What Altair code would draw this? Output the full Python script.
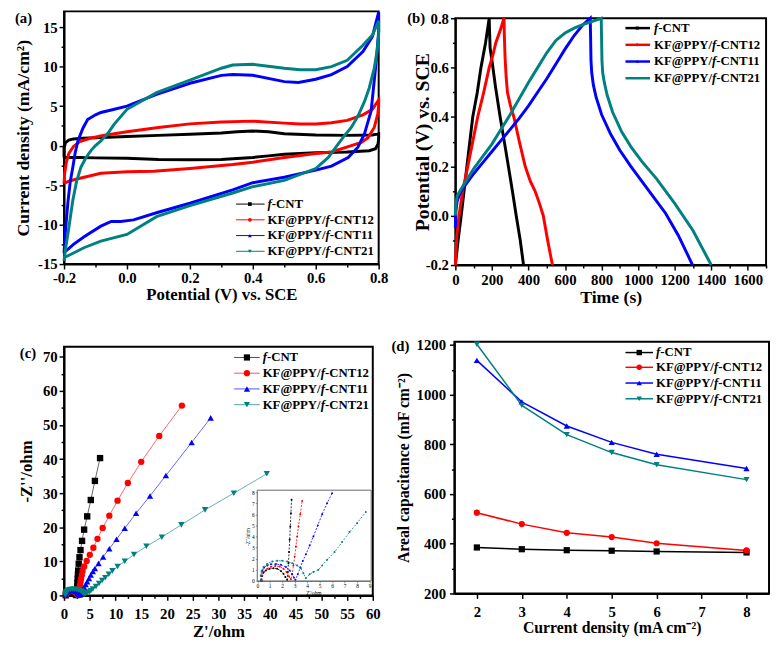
import altair as alt
import pandas as pd

FONT = "Liberation Serif"
NAMES = ["f-CNT", "KF@PPY/f-CNT12", "KF@PPY/f-CNT11", "KF@PPY/f-CNT21"]
COLORS = ["#000000", "#ff0000", "#0000ff", "#008080"]
SHAPES = ["square", "circle", "triangle-up", "triangle-down"]

# ---------------- (a) CV loops: potential (V) / current density (mA/cm2)
CV_V_CNT = [-0.2, -0.2, -0.195, -0.185, -0.17, -0.14, -0.1, 0.0, 0.1, 0.2, 0.3, 0.35, 0.4, 0.45, 0.5, 0.6, 0.7, 0.78, 0.795, 0.8,
            0.8, 0.798, 0.79, 0.77, 0.7, 0.6, 0.5, 0.45, 0.4, 0.3, 0.2, 0.1, 0.0, -0.1, -0.15, -0.19, -0.2]
CV_I_CNT = [-1.5, -0.3, 0.4, 0.7, 0.85, 0.95, 1.0, 1.15, 1.3, 1.45, 1.6, 1.75, 1.85, 1.75, 1.5, 1.35, 1.3, 1.35, 1.45, 1.5,
            0.9, 0.2, -0.4, -0.65, -0.8, -0.9, -1.1, -1.3, -1.5, -1.75, -1.8, -1.75, -1.6, -1.55, -1.5, -1.5, -1.5]
CV_V_12 = [-0.2, -0.198, -0.193, -0.185, -0.17, -0.15, -0.12, -0.08, 0.0, 0.1, 0.2, 0.3, 0.4, 0.5, 0.55, 0.6, 0.65, 0.7, 0.75, 0.78, 0.8,
           0.8, 0.797, 0.786, 0.766, 0.745, 0.713, 0.65, 0.6, 0.5, 0.4, 0.336, 0.2, 0.085, 0.0, -0.083, -0.156, -0.185, -0.2]
CV_I_12 = [-4.8, -3.5, -2.2, -1.0, -0.1, 0.5, 0.9, 1.25, 1.75, 2.3, 2.75, 3.0, 3.1, 2.85, 2.75, 2.75, 2.9, 3.2, 3.9, 4.6, 5.8,
           5.0, 4.0, 2.3, 1.0, 0.4, 0.0, -0.8, -1.0, -1.5, -2.1, -2.4, -2.9, -3.25, -3.3, -3.5, -4.2, -4.5, -4.8]
CV_V_11 = [-0.2, -0.195, -0.187, -0.18, -0.172, -0.165, -0.156, -0.14, -0.125, -0.1, -0.083, -0.04, 0.0, 0.094, 0.2, 0.3, 0.336, 0.4, 0.5, 0.545, 0.6, 0.65, 0.7, 0.75, 0.78, 0.8,
           0.8, 0.795, 0.79, 0.776, 0.755, 0.734, 0.703, 0.65, 0.6, 0.5, 0.4, 0.336, 0.2, 0.094, 0.021, -0.02, -0.05, -0.083, -0.135, -0.17, -0.187, -0.2]
CV_I_11 = [-13.6, -10.5, -6.9, -4.5, -2.7, -1.0, 0.6, 2.2, 3.3, 3.9, 4.2, 4.6, 5.0, 6.5, 7.9, 8.9, 9.0, 8.9, 8.1, 8.0, 8.4, 9.0, 10.0, 11.9, 13.8, 16.9,
           14.5, 12.0, 9.8, 4.4, 1.5, -0.2, -1.5, -2.6, -3.1, -4.0, -4.7, -5.6, -7.3, -8.5, -9.4, -9.6, -9.6, -10.2, -11.5, -12.5, -13.1, -13.5]
CV_V_21 = [-0.2, -0.195, -0.187, -0.172, -0.16, -0.146, -0.13, -0.114, -0.1, -0.083, -0.06, -0.041, 0.0, 0.094, 0.2, 0.3, 0.336, 0.4, 0.5, 0.55, 0.6, 0.65, 0.7, 0.75, 0.78, 0.8,
           0.8, 0.795, 0.786, 0.77, 0.755, 0.735, 0.713, 0.69, 0.671, 0.64, 0.6, 0.5, 0.4, 0.336, 0.2, 0.094, 0.0, -0.083, -0.135, -0.17, -0.2]
CV_I_21 = [-14.6, -13.0, -11.0, -6.9, -4.5, -2.7, -1.5, -0.6, 0.0, 0.6, 1.6, 2.7, 4.6, 6.7, 8.3, 9.8, 10.2, 10.3, 9.8, 9.6, 9.6, 10.0, 10.8, 12.7, 14.0, 15.8,
           14.0, 12.0, 9.8, 7.3, 5.6, 3.8, 2.3, 1.2, 0.2, -1.5, -2.9, -4.4, -5.2, -6.0, -7.6, -9.0, -11.25, -12.1, -12.9, -13.6, -14.2]

# ---------------- (b) GCD: time (s) / potential (V)
GCD_T_CNT = [0, 15, 32, 60, 95, 120, 140, 165, 185, 187, 190, 200, 220, 245, 270, 290, 312, 333, 355, 373]
GCD_V_CNT = [-0.2, -0.1, 0.0, 0.18, 0.4, 0.5, 0.6, 0.7, 0.8, 0.75, 0.68, 0.63, 0.52, 0.4, 0.29, 0.2, 0.1, 0.0, -0.1, -0.2]
GCD_T_12 = [0, 8, 20, 40, 68, 95, 122, 155, 185, 205, 221, 245, 266, 268, 272, 278, 285, 300, 320, 350, 382, 410, 436, 460, 481, 505, 531]
GCD_V_12 = [-0.2, -0.08, 0.0, 0.1, 0.2, 0.3, 0.4, 0.5, 0.6, 0.65, 0.7, 0.75, 0.8, 0.73, 0.64, 0.56, 0.5, 0.45, 0.4, 0.3, 0.2, 0.14, 0.1, 0.05, 0.0, -0.1, -0.2]
GCD_T_11 = [0, 3, 10, 25, 50, 100, 150, 200, 250, 300, 350, 400, 450, 500, 550, 600, 650, 700, 738, 740, 742, 746, 755, 770, 800, 850, 900, 960, 1050, 1150, 1220, 1298]
GCD_V_11 = [-0.05, 0.02, 0.06, 0.09, 0.12, 0.17, 0.215, 0.26, 0.305, 0.35, 0.395, 0.445, 0.5, 0.555, 0.615, 0.675, 0.73, 0.775, 0.8, 0.72, 0.63, 0.58, 0.53, 0.48, 0.41, 0.33, 0.265, 0.2, 0.11, 0.01, -0.08, -0.2]
GCD_T_21 = [0, 3, 10, 25, 50, 100, 150, 200, 250, 300, 350, 400, 450, 500, 550, 600, 650, 700, 750, 798, 800, 802, 806, 815, 830, 860, 910, 960, 1020, 1100, 1200, 1300, 1400]
GCD_V_21 = [0.0, 0.05, 0.08, 0.1, 0.13, 0.19, 0.24, 0.29, 0.35, 0.41, 0.475, 0.54, 0.6, 0.66, 0.71, 0.74, 0.76, 0.775, 0.787, 0.8, 0.72, 0.63, 0.58, 0.54, 0.49, 0.42, 0.34, 0.28, 0.22, 0.15, 0.05, -0.06, -0.2]

# ---------------- (c) Nyquist: Z' / -Z'' (ohm)
EIS_RE_CNT = [0.35, 0.38, 0.5, 0.7, 1.0, 1.3, 1.6, 1.9, 2.1, 2.25, 2.4, 2.45, 2.5, 2.55, 2.6, 2.65, 2.7, 2.75, 2.85, 3.0, 3.2, 3.5, 3.9, 4.5, 5.2, 6.0, 7.0]
EIS_IM_CNT = [0.05, 0.45, 0.75, 0.95, 1.1, 1.15, 1.1, 0.9, 0.65, 0.35, 0.1, 0.8, 1.6, 2.6, 3.7, 4.9, 6.1, 7.3, 9.3, 11.2, 13.3, 16.0, 19.3, 23.2, 28.0, 33.6, 40.3]
EIS_RE_12 = [0.35, 0.4, 0.55, 0.8, 1.1, 1.45, 1.8, 2.1, 2.35, 2.55, 2.7, 2.8, 2.9, 3.0, 3.1, 3.2, 3.3, 3.45, 3.6, 3.9, 4.4, 5.0, 5.7, 6.5, 7.5, 8.8, 10.4, 12.4, 15.0, 18.5, 22.9]
EIS_IM_12 = [0.05, 0.5, 0.85, 1.1, 1.28, 1.35, 1.3, 1.1, 0.8, 0.4, 0.15, 0.6, 1.4, 2.2, 3.1, 4.0, 4.9, 6.0, 7.2, 8.5, 10.1, 11.9, 14.0, 16.6, 19.8, 23.4, 27.8, 33.0, 39.2, 46.8, 55.7]
EIS_RE_11 = [0.3, 0.32, 0.4, 0.55, 0.8, 1.1, 1.5, 1.9, 2.3, 2.6, 2.8, 2.95, 3.06, 3.25, 3.45, 3.65, 3.9, 4.2, 4.5, 4.85, 5.2, 5.6, 6.0, 6.7, 7.6, 8.8, 10.2, 11.8, 14.0, 16.7, 19.8, 24.8, 28.5]
EIS_IM_11 = [0.05, 0.5, 0.9, 1.2, 1.4, 1.5, 1.52, 1.45, 1.25, 0.95, 0.6, 0.3, 0.1, 0.6, 1.2, 1.8, 2.4, 3.2, 4.0, 5.0, 6.0, 7.0, 7.9, 9.4, 11.3, 13.7, 16.5, 19.7, 24.1, 29.2, 35.2, 44.9, 52.1]
EIS_RE_21 = [0.3, 0.28, 0.35, 0.5, 0.8, 1.2, 1.6, 2.0, 2.4, 2.8, 3.2, 3.5, 3.7, 3.9, 4.2, 4.5, 4.9, 5.2, 5.6, 6.2, 6.8, 7.4, 8.0, 8.7, 9.4, 10.4, 11.8, 13.6, 16.0, 19.0, 22.8, 27.4, 33.0, 39.4]
EIS_IM_21 = [0.05, 0.5, 0.9, 1.25, 1.55, 1.75, 1.82, 1.82, 1.75, 1.6, 1.4, 1.15, 0.7, 0.25, 0.6, 0.8, 1.0, 1.4, 1.9, 2.6, 3.5, 4.4, 5.2, 6.2, 7.2, 8.5, 10.0, 12.0, 14.4, 17.1, 20.7, 25.1, 30.0, 35.7]

# ---------------- (d) areal capacitance vs current density
CD = [2, 3, 4, 5, 6, 8]
CAP_CNT = [385, 378, 374, 372, 369, 365]
CAP_12 = [525, 479, 444, 427, 402, 373]
CAP_11 = [1138, 971, 874, 808, 760, 703]
CAP_21 = [1203, 957, 839, 767, 718, 658]

# tick values (major + minor)
TICKS_A_X = [-0.2, -0.1, 0.0, 0.1, 0.2, 0.3, 0.4, 0.5, 0.6, 0.7, 0.8]
TICKS_A_Y = [-15, -12.5, -10, -7.5, -5, -2.5, 0, 2.5, 5, 7.5, 10, 12.5, 15]
TICKS_B_X = [0, 100, 200, 300, 400, 500, 600, 700, 800, 900, 1000, 1100, 1200, 1300, 1400, 1500, 1600, 1700]
TICKS_B_Y = [-0.2, -0.1, 0.0, 0.1, 0.2, 0.3, 0.4, 0.5, 0.6, 0.7, 0.8]
TICKS_C_X = [0, 2.5, 5, 7.5, 10, 12.5, 15, 17.5, 20, 22.5, 25, 27.5, 30, 32.5, 35, 37.5, 40, 42.5, 45, 47.5, 50, 52.5, 55, 57.5, 60]
TICKS_C_Y = [0, 5, 10, 15, 20, 25, 30, 35, 40, 45, 50, 55, 60, 65, 70]
TICKS_D_X = [2, 2.5, 3, 3.5, 4, 4.5, 5, 5.5, 6, 6.5, 7, 7.5, 8]
TICKS_D_Y = [200, 300, 400, 500, 600, 700, 800, 900, 1000, 1100, 1200]
TICKS_IN_X = [0, 1, 2, 3, 4, 5, 6, 7, 8, 9]
TICKS_IN_Y = [0, 1, 2, 3, 4, 5, 6, 7, 8]


def long_df(xs, ys, xn, yn):
    rows = []
    for name, xl, yl in zip(NAMES, xs, ys):
        for i, (xv, yv) in enumerate(zip(xl, yl)):
            rows.append({"series": name, xn: xv, yn: yv, "i": i})
    return pd.DataFrame(rows)


df_a = long_df([CV_V_CNT, CV_V_12, CV_V_11, CV_V_21], [CV_I_CNT, CV_I_12, CV_I_11, CV_I_21], "V", "I")
df_b = long_df([GCD_T_CNT, GCD_T_12, GCD_T_11, GCD_T_21], [GCD_V_CNT, GCD_V_12, GCD_V_11, GCD_V_21], "t", "E")
df_c = long_df([EIS_RE_CNT, EIS_RE_12, EIS_RE_11, EIS_RE_21], [EIS_IM_CNT, EIS_IM_12, EIS_IM_11, EIS_IM_21], "zr", "zi")
df_d = long_df([CD] * 4, [CAP_CNT, CAP_12, CAP_11, CAP_21], "j", "C")

COLOR = alt.Color("series:N", scale=alt.Scale(domain=NAMES, range=COLORS), legend=None)
SHAPE = alt.Shape("series:N", scale=alt.Scale(domain=NAMES, range=SHAPES), legend=None)


def sc(lo, hi, rng=None):
    if rng is None:
        return alt.Scale(domain=[lo, hi], nice=False, zero=False)
    return alt.Scale(domain=[lo, hi], range=rng, nice=False, zero=False)


def ax(orient, values, step, fmt, title, tsize, tx, ty, lsize=15, lpad=3, major=5, minor=3):
    cond = f"abs(datum.value/{step} - round(datum.value/{step})) > 0.001"
    return alt.Axis(
        orient=orient, values=values, format=fmt, title=title,
        labelExpr=f"({cond}) ? '' : replace(datum.label, '\u2212', '-')",
        tickSize={"condition": {"test": cond, "value": minor}, "value": major},
        labelFontSize=lsize, labelPadding=lpad, titleFontSize=tsize,
        titleX=tx, titleY=ty, titleBaseline="alphabetic", titleAlign="center",
        titleAngle=270 if orient == "left" else 0,
    )


def one():
    return alt.Data(values=[{"k": 0}])


W_EM = {"KF@PPY/": 4.541, "f": 0.333}


def segs(name):
    if name.startswith("KF@PPY/"):
        return [("KF@PPY/", False), ("f", True), (name[8:], False)]
    return [("f", True), (name[1:], False)]


def legend(xl0, xl1, xm, xt, ys, fs=13, lw=1.0, ms=16, lop=1.0):
    out = []
    for name, col, shp, y in zip(NAMES, COLORS, SHAPES, ys):
        out.append(alt.Chart(one()).mark_rule(color=col, strokeWidth=lw, opacity=lop).encode(
            x=alt.value(xl0), x2=alt.value(xl1), y=alt.value(y)))
        out.append(alt.Chart(one()).mark_point(shape=shp, filled=True, size=ms, color=col, opacity=1).encode(
            x=alt.value(xm), y=alt.value(y)))
        x = xt
        for s, it in segs(name):
            out.append(alt.Chart(one()).mark_text(
                align="left", baseline="middle", font=FONT, fontSize=fs, fontWeight="bold",
                fontStyle="italic" if it else "normal", color="black").encode(
                x=alt.value(x), y=alt.value(y), text=alt.value(s)))
            x += W_EM.get(s, 0) * fs
    return out


def tag(txt, x, y):
    return alt.Chart(one()).mark_text(align="left", baseline="middle", font=FONT, fontSize=15,
                                      fontWeight="bold", color="black").encode(
        x=alt.value(x), y=alt.value(y), text=alt.value(txt))


def spacer(x, y):
    return alt.Chart(one()).mark_rule(color="white", strokeWidth=1).encode(
        x=alt.value(x), y=alt.value(y), y2=alt.value(y + 1))


def frame(x0, x1, y0, y1, color="black", width=2, fill=None):
    if fill is None:
        mk = alt.Chart(one()).mark_rect(fillOpacity=0, stroke=color, strokeWidth=width)
    else:
        mk = alt.Chart(one()).mark_rect(fill=fill, stroke=color, strokeWidth=width)
    return mk.encode(x=alt.value(x0), x2=alt.value(x1), y=alt.value(y0), y2=alt.value(y1))


NOVIEW = alt.ViewBackground(strokeOpacity=0, strokeWidth=0)

# ---------------- panel (a)
WA, HA = 320, 257
a_line = alt.Chart(df_a).mark_line(strokeWidth=3).encode(
    x=alt.X("V:Q", scale=sc(-0.2, 0.8),
            axis=ax("bottom", TICKS_A_X, 0.2, ".1f", "Potential (V) vs. SCE", 17, WA / 2, 36, lpad=2)),
    y=alt.Y("I:Q", scale=sc(-15, 17),
            axis=ax("left", TICKS_A_Y, 5, ".0f", "Current density (mA/cm\u00b2)", 18, -36, HA / 2, lpad=2)),
    color=COLOR, order=alt.Order("i:Q"))
panel_a = alt.layer(a_line, *legend(175, 204, 189, 207, [196, 212, 228, 244], lw=1, ms=14),
                    tag("(a)", -50, 7), spacer(-55, 100)).properties(width=WA, height=HA)

# ---------------- panel (b)  (plot area starts 7px below the row top)
WB, HB, TB = 316, 258, 7
b_line = alt.Chart(df_b).mark_line(strokeWidth=3).encode(
    x=alt.X("t:Q", scale=sc(0, 1700),
            axis=ax("bottom", TICKS_B_X, 200, "d", "Time (s)", 18, WB / 2, 38, lpad=3)),
    y=alt.Y("E:Q", scale=sc(-0.2, 0.8, [HB, TB]),
            axis=ax("left", TICKS_B_Y, 0.2, ".1f", "Potential (V) vs. SCE", 20, -27, (HB + TB) / 2, lpad=2)),
    color=COLOR, order=alt.Order("i:Q"))
panel_b = alt.layer(frame(0, WB, TB, HB), b_line,
                    *legend(173, 198, 185, 202, [TB + 10, TB + 27, TB + 44, TB + 61], lw=2.5, ms=10),
                    tag("(b)", -49, TB)).properties(width=WB, height=HB, view=NOVIEW)

# ---------------- panel (c)  (plot area starts 5px below the row top)
WC, HC, TC = 314, 258, 5
CX = sc(0, 60)
CY = sc(0, 73, [HC, TC])
c_ax_x = ax("bottom", TICKS_C_X, 5, "d", "Z'/ohm", 17, WC / 2, 42, lpad=6)
c_ax_y = ax("left", TICKS_C_Y, 10, "d", "-Z''/ohm", 17, -33, (HC + TC) / 2, lpad=2)
c_line = alt.Chart(df_c).mark_line(strokeWidth=1, opacity=0.6).encode(
    x=alt.X("zr:Q", scale=CX, axis=c_ax_x), y=alt.Y("zi:Q", scale=CY, axis=c_ax_y),
    color=COLOR, order=alt.Order("i:Q"))
c_pts = alt.Chart(df_c).mark_point(filled=True, size=42, opacity=1).encode(
    x=alt.X("zr:Q", scale=CX, axis=None), y=alt.Y("zi:Q", scale=CY, axis=None),
    color=COLOR, shape=SHAPE)

IN_X = alt.Scale(domain=[0, 9], range=[196.5, 310.7], nice=False, zero=False)
IN_Y = alt.Scale(domain=[0, 8], range=[HC - 14.7, HC - 14.7 - 90.4], nice=False, zero=False)
in_common = dict(titleFontSize=5.5, titleFontWeight="normal", titlePadding=1, labelFontSize=5.5,
                 labelFontWeight="normal", labelPadding=1, tickSize=2, tickWidth=0.6, domainWidth=0.8,
                 domainColor="#555", tickColor="#555", labelFlush=False, labelOverlap=False)
in_ax_x = alt.Axis(orient="bottom", offset=-14.7, values=TICKS_IN_X, title="Z'/ohm", **in_common)
in_ax_y = alt.Axis(orient="left", offset=-196.5, values=TICKS_IN_Y, title="-Z''/ohm", **in_common)
in_base = alt.Chart(df_c).transform_filter("datum.zr <= 9.05 && datum.zi <= 8.1")
in_line = in_base.mark_line(strokeWidth=0.8, strokeDash=[2, 1.5]).encode(
    x=alt.X("zr:Q", scale=IN_X, axis=in_ax_x), y=alt.Y("zi:Q", scale=IN_Y, axis=in_ax_y),
    color=COLOR, order=alt.Order("i:Q"))
in_pts = in_base.mark_point(filled=True, size=4, opacity=1).encode(
    x=alt.X("zr:Q", scale=IN_X, axis=None), y=alt.Y("zi:Q", scale=IN_Y, axis=None), color=COLOR)

panel_c = alt.layer(frame(0, WC, TC, HC), c_line, c_pts,
                    frame(196.5, 312.4, HC - 14.7 - 92.3, HC - 14.7, color="#666", width=1, fill="white"),
                    in_line, in_pts,
                    *legend(173, 199, 186, 202, [TC + 11, TC + 27, TC + 43, TC + 59], lw=1, ms=40, lop=0.7),
                    tag("(c)", -45, TC + 7), spacer(-46, 100)).resolve_scale(
    x="independent", y="independent").properties(width=WC, height=HC, view=NOVIEW)

# ---------------- panel (d)
WD, HD = 320, 256
DX = sc(1.5, 8.5)
DY = sc(200, 1213)
d_ax_x = ax("bottom", TICKS_D_X, 1, "d", "Current density (mA cm\u207b\u00b2)", 16, WD / 2, 40, lpad=6)
d_ax_y = ax("left", TICKS_D_Y, 200, "d", "Areal capacitance (mF cm\u207b\u00b2)", 16, -47, HD / 2, lpad=4)
d_line = alt.Chart(df_d).mark_line(strokeWidth=1.5).encode(
    x=alt.X("j:Q", scale=DX, axis=d_ax_x), y=alt.Y("C:Q", scale=DY, axis=d_ax_y),
    color=COLOR, order=alt.Order("i:Q"))
d_pts = alt.Chart(df_d).mark_point(filled=True, size=40, opacity=1).encode(
    x=alt.X("j:Q", scale=DX, axis=d_ax_x), y=alt.Y("C:Q", scale=DY, axis=d_ax_y),
    color=COLOR, shape=SHAPE)
panel_d = alt.layer(d_line, d_pts, *legend(174, 202, 188, 205, [11, 26, 42, 58], lw=1.5, ms=30),
                    tag("(d)", -64, 4)).properties(width=WD, height=HD)

row1 = alt.hconcat(panel_a, panel_b, spacing=18)
row2 = alt.hconcat(panel_c, panel_d, spacing=10)
chart = alt.vconcat(row1, row2, spacing=31).properties(
    padding={"left": 0, "top": -9, "right": 0, "bottom": 0}
).configure(font=FONT).configure_view(stroke="black", strokeWidth=2).configure_axis(
    domainColor="black", domainWidth=2, tickColor="black", tickWidth=1.5,
    labelFont=FONT, labelFontWeight="bold", labelColor="black",
    titleFont=FONT, titleFontWeight="bold", titleColor="black",
    grid=False, labelFlush=False, labelOverlap=False,
)

chart.save("out.html", embed_options={"renderer": "svg", "actions": False})
